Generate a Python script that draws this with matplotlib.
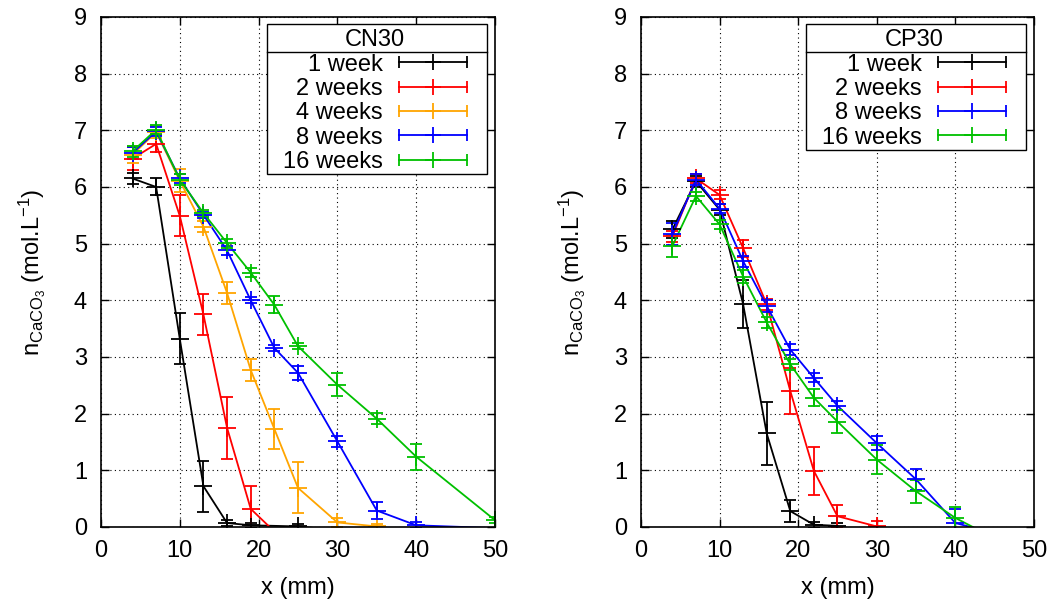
import numpy as np
import matplotlib
matplotlib.use("Agg")
import matplotlib.pyplot as plt
from matplotlib.lines import Line2D
from matplotlib.patches import Rectangle
from matplotlib.legend_handler import HandlerBase

plt.rcParams['font.family'] = ['Liberation Sans', 'DejaVu Sans']
plt.rcParams['mathtext.fontset'] = 'custom'
plt.rcParams['mathtext.rm'] = 'Liberation Sans'
plt.rcParams['mathtext.it'] = 'Liberation Sans'

FS = 17

# ----------------------------
# data
# ----------------------------
# CN30 (left panel)
cn_1w_x = [4, 7, 10, 13, 16, 19, 25, 28]
cn_1w_y = [6.15, 6.0, 3.32, 0.72, 0.07, 0.03, 0.01, -0.03]
cn_1w_e = [0.1, 0.15, 0.45, 0.45, 0.05, 0.04, 0.04, 0.0]

cn_2w_x = [4, 7, 10, 13, 16, 19, 22]
cn_2w_y = [6.5, 6.76, 5.49, 3.75, 1.75, 0.32, -0.08]
cn_2w_e = [0.2, 0.15, 0.36, 0.37, 0.55, 0.4, 0.0]

cn_4w_x = [4, 7, 10, 13, 16, 19, 22, 25, 30, 35]
cn_4w_y = [6.57, 6.97, 6.11, 5.3, 4.13, 2.77, 1.73, 0.69, 0.08, 0.01]
cn_4w_e = [0.15, 0.1, 0.2, 0.1, 0.2, 0.2, 0.35, 0.45, 0.08, 0.05]

cn_8w_x = [4, 7, 10, 13, 16, 19, 22, 25, 30, 35, 40, 50]
cn_8w_y = [6.6, 6.98, 6.15, 5.51, 4.88, 4.0, 3.16, 2.72, 1.51, 0.29, 0.03, -0.02]
cn_8w_e = [0.1, 0.08, 0.08, 0.05, 0.08, 0.05, 0.05, 0.12, 0.1, 0.15, 0.05, 0.0]

cn_16w_x = [4, 7, 10, 13, 16, 19, 22, 25, 30, 35, 40, 50]
cn_16w_y = [6.63, 7.01, 6.13, 5.54, 5.01, 4.49, 3.92, 3.19, 2.51, 1.91, 1.24, 0.12]
cn_16w_e = [0.1, 0.08, 0.1, 0.05, 0.08, 0.08, 0.15, 0.05, 0.2, 0.1, 0.23, 0.05]

# CP30 (right panel)
cp_1w_x = [4, 7, 10, 13, 16, 19, 22, 25]
cp_1w_y = [5.25, 6.1, 5.6, 3.93, 1.65, 0.28, 0.04, 0.02]
cp_1w_e = [0.15, 0.1, 0.1, 0.42, 0.55, 0.2, 0.05, 0.05]

cp_2w_x = [4, 7, 10, 13, 16, 19, 22, 25, 30]
cp_2w_y = [5.13, 6.15, 5.86, 4.92, 3.93, 2.4, 0.99, 0.19, 0.01]
cp_2w_e = [0.1, 0.08, 0.08, 0.15, 0.1, 0.4, 0.42, 0.2, 0.1]

cp_8w_x = [4, 7, 10, 13, 16, 19, 22, 25, 30, 35, 40, 45]
cp_8w_y = [5.17, 6.13, 5.62, 4.69, 3.9, 3.13, 2.63, 2.14, 1.48, 0.84, 0.07, -0.11]
cp_8w_e = [0.2, 0.1, 0.08, 0.1, 0.1, 0.1, 0.08, 0.08, 0.12, 0.18, 0.25, 0.0]

cp_16w_x = [4, 7, 10, 13, 16, 19, 22, 25, 30, 35, 40, 45]
cp_16w_y = [4.96, 5.84, 5.34, 4.42, 3.61, 2.87, 2.28, 1.86, 1.19, 0.63, 0.16, -0.2]
cp_16w_e = [0.2, 0.08, 0.08, 0.12, 0.1, 0.1, 0.15, 0.2, 0.25, 0.2, 0.2, 0.0]

BLACK, RED, ORANGE, BLUE, GREEN = "black", "#ff0000", "#ffa500", "#0000ff", "#00c000"

left_series = [
    ("1 week", cn_1w_x, cn_1w_y, cn_1w_e, BLACK),
    ("2 weeks", cn_2w_x, cn_2w_y, cn_2w_e, RED),
    ("4 weeks", cn_4w_x, cn_4w_y, cn_4w_e, ORANGE),
    ("8 weeks", cn_8w_x, cn_8w_y, cn_8w_e, BLUE),
    ("16 weeks", cn_16w_x, cn_16w_y, cn_16w_e, GREEN),
]
right_series = [
    ("1 week", cp_1w_x, cp_1w_y, cp_1w_e, BLACK),
    ("2 weeks", cp_2w_x, cp_2w_y, cp_2w_e, RED),
    ("8 weeks", cp_8w_x, cp_8w_y, cp_8w_e, BLUE),
    ("16 weeks", cp_16w_x, cp_16w_y, cp_16w_e, GREEN),
]


class GnuplotKey(HandlerBase):
    # gnuplot style key: horizontal bar with end caps and a "+" in the middle
    def create_artists(self, legend, orig, xd, yd, w, h, fontsize, trans):
        c = orig.get_color()
        y = (h - yd) / 2
        x0, x1 = -xd, -xd + w
        bar = Line2D([x0, x1], [y, y], color=c, lw=1.3, marker="|",
                     markersize=8, mew=1.3, transform=trans)
        mid = Line2D([(x0 + x1) / 2], [y], color=c, ls="none", marker="+",
                     markersize=12, mew=1.3, transform=trans)
        return [bar, mid]


def draw_panel(ax, series, title):
    handles = []
    for label, x, y, e, c in series:
        x = np.array(x, float)
        y = np.array(y, float)
        e = np.array(e, float)
        ln, = ax.plot(x, y, color=c, lw=1.3, label=label)
        ok = y >= 0
        ax.errorbar(x[ok], y[ok], yerr=e[ok], fmt="+", color=c, ms=13,
                    mew=1.3, elinewidth=1.3, capsize=4.5, capthick=1.3)
        handles.append(ln)

    ax.set_xlim(0, 50)
    ax.set_ylim(0, 9)
    ax.set_xticks(np.arange(0, 51, 10))
    ax.set_yticks(np.arange(0, 10, 1))
    ax.grid(True, color="black", ls=(0, (1, 3)), lw=0.8)
    ax.tick_params(direction="in", top=True, right=True, length=6,
                   labelsize=FS, width=1)
    ax.tick_params(axis="x", pad=9.5)
    ax.tick_params(axis="y", pad=10)
    for s in ax.spines.values():
        s.set_linewidth(1.2)
    ax.set_xlabel("x (mm)", fontsize=FS, labelpad=11)
    ax.set_ylabel(r"n$_{\mathregular{CaCO_3}}$ (mol.L$^{\mathregular{-1}}$)",
                  fontsize=FS)
    ax.yaxis.set_label_coords(-0.134, 0.5)

    leg = ax.legend(handles=handles, title=title, loc="upper right",
                    bbox_to_anchor=(0.929, 0.976), borderaxespad=0,
                    markerfirst=False, fontsize=FS, title_fontsize=FS,
                    handlelength=2.9, handletextpad=0.68, labelspacing=0.1,
                    borderpad=0, frameon=False,
                    handler_map={Line2D: GnuplotKey()})
    leg.set_zorder(6)
    return leg


fig = plt.figure(figsize=(10.53, 6.04), dpi=100)
ax1 = fig.add_axes([0.0959, 0.1275, 0.3742, 0.8444])
ax2 = fig.add_axes([0.6087, 0.1275, 0.3732, 0.8444])

legs = [(ax1, draw_panel(ax1, left_series, "CN30")),
        (ax2, draw_panel(ax2, right_series, "CP30"))]

# gnuplot-like key box: wide side margins, title row separated by a line
fig.canvas.draw()
r = fig.canvas.get_renderer()
for ax, leg in legs:
    inv = ax.transAxes.inverted()
    bb = leg.get_window_extent(r)
    tb = leg.get_title().get_window_extent(r)
    first = leg.get_texts()[0].get_window_extent(r)
    (x0, y0), (x1, y1) = inv.transform([(bb.x0 - 16, bb.y0 - 1),
                                        (bb.x1 + 20, bb.y1 + 5)])
    ax.add_patch(Rectangle((x0, y0), x1 - x0, y1 - y0, transform=ax.transAxes,
                           facecolor="white", edgecolor="black", lw=1.0,
                           clip_on=False, zorder=5))
    ysep = inv.transform([(0, (tb.y0 + first.y1) / 2)])[0][1]
    ax.add_line(Line2D([x0, x1], [ysep, ysep], transform=ax.transAxes,
                       color="black", lw=1.0, clip_on=False, zorder=7))

fig.savefig("out.png", dpi=100)
